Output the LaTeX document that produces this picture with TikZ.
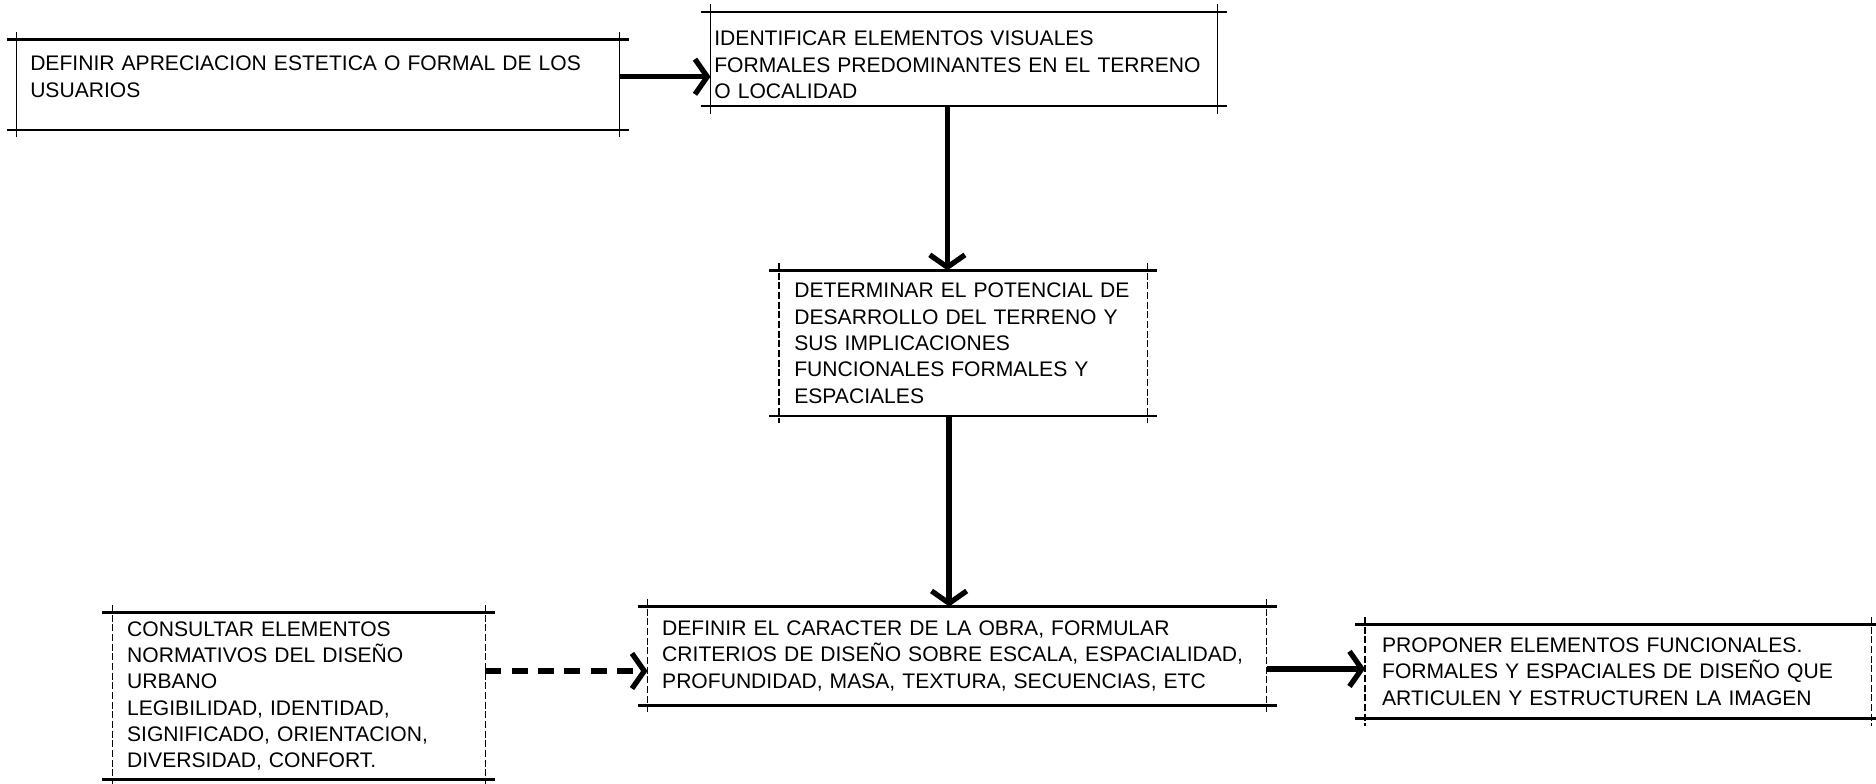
\documentclass[tikz,border=0pt]{standalone}
\usepackage{fontspec}
\setmainfont{Liberation Sans}
\usetikzlibrary{arrows.meta}

\begin{document}
\begin{tikzpicture}[font=\fontsize{12}{15}\selectfont,
  caja/.style={inner ysep=0pt, align=left, anchor=north west},
  hlinea/.style={line width=1.4pt},
  vlinea/.style={line width=0.6pt},
  vguion/.style={vlinea, dash pattern=on 4pt off 1.5pt},
  flecha/.style={line width=3pt, -{Straight Barb[length=7pt,width=20pt]}},
  fleguion/.style={flecha, dash pattern=on 9pt off 6pt}]

\useasboundingbox (0,0) rectangle (37.52,-15.674);

% boxes
\node[caja, text width=11.51cm, inner xsep=0.263cm, minimum height=1.795cm] (usuarios) at (0.335,-0.790)
  {DEFINIR APRECIACION ESTETICA O FORMAL DE LOS\\USUARIOS\\[-6pt]\mbox{}};
\node[caja, text width=9.98cm, inner xsep=0.07cm, minimum height=1.867cm] (visuales) at (14.21,-0.239)
  {\mbox{}\\IDENTIFICAR ELEMENTOS VISUALES\\FORMALES PREDOMINANTES EN EL TERRENO\\O LOCALIDAD};
\node[caja, text width=6.75cm, inner xsep=0.3cm, minimum height=2.896cm] (potencial) at (15.58,-5.408)
  {DETERMINAR EL POTENCIAL DE\\DESARROLLO DEL TERRENO Y\\SUS IMPLICACIONES\\FUNCIONALES FORMALES Y\\ESPACIALES};
\node[caja, text width=11.80cm, inner xsep=0.287cm, minimum height=1.962cm] (caracter) at (12.95,-12.13)
  {DEFINIR EL CARACTER DE LA OBRA, FORMULAR\\CRITERIOS DE DISEÑO SOBRE ESCALA, ESPACIALIDAD,\\PROFUNDIDAD, MASA, TEXTURA, SECUENCIAS, ETC};
\node[caja, text width=6.87cm, inner xsep=0.287cm, minimum height=3.326cm] (normativa) at (2.249,-12.25)
  {CONSULTAR ELEMENTOS\\NORMATIVOS DEL DISEÑO\\URBANO\\LEGIBILIDAD, IDENTIDAD,\\SIGNIFICADO, ORIENTACION,\\DIVERSIDAD, CONFORT.};
\node[caja, text width=9.45cm, inner xsep=0.335cm, minimum height=1.867cm] (propuesta) at (27.30,-12.49)
  {PROPONER ELEMENTOS FUNCIONALES.\\FORMALES Y ESPACIALES DE DISEÑO QUE\\ARTICULEN Y ESTRUCTUREN LA IMAGEN};

% crossed corner lines
\foreach \n in {usuarios, visuales, potencial, caracter, normativa, propuesta} {
  \draw[hlinea] ([xshift=-0.2cm]\n.north west) -- ([xshift=0.2cm]\n.north east);
  \draw[hlinea] ([xshift=-0.2cm]\n.south west) -- ([xshift=0.2cm]\n.south east);
}
\foreach \n in {usuarios, visuales} {
  \draw[vlinea] ([yshift=0.15cm]\n.north west) -- ([yshift=-0.15cm]\n.south west);
  \draw[vlinea] ([yshift=0.15cm]\n.north east) -- ([yshift=-0.15cm]\n.south east);
}
\foreach \n in {potencial, caracter, normativa, propuesta} {
  \draw[vguion] ([yshift=0.15cm]\n.north west) -- ([yshift=-0.15cm]\n.south west);
  \draw[vguion] ([yshift=0.15cm]\n.north east) -- ([yshift=-0.15cm]\n.south east);
}

% arrows
\draw[flecha] ([yshift=0.16cm]usuarios.east) -- ([yshift=0.16cm]usuarios.east -| visuales.west);
\draw[flecha] ([xshift=-0.33cm]visuales.south) -- ([xshift=-0.33cm]visuales.south |- potencial.north);
\draw[flecha] ([xshift=-0.28cm]potencial.south) -- ([xshift=-0.28cm]potencial.south |- caracter.north);
\draw[flecha] ([yshift=-0.26cm]caracter.east) -- ([yshift=-0.26cm]caracter.east -| propuesta.west);
\draw[fleguion] ([yshift=0.5cm]normativa.east) -- ([yshift=0.5cm]normativa.east -| caracter.west);

\end{tikzpicture}
\end{document}
